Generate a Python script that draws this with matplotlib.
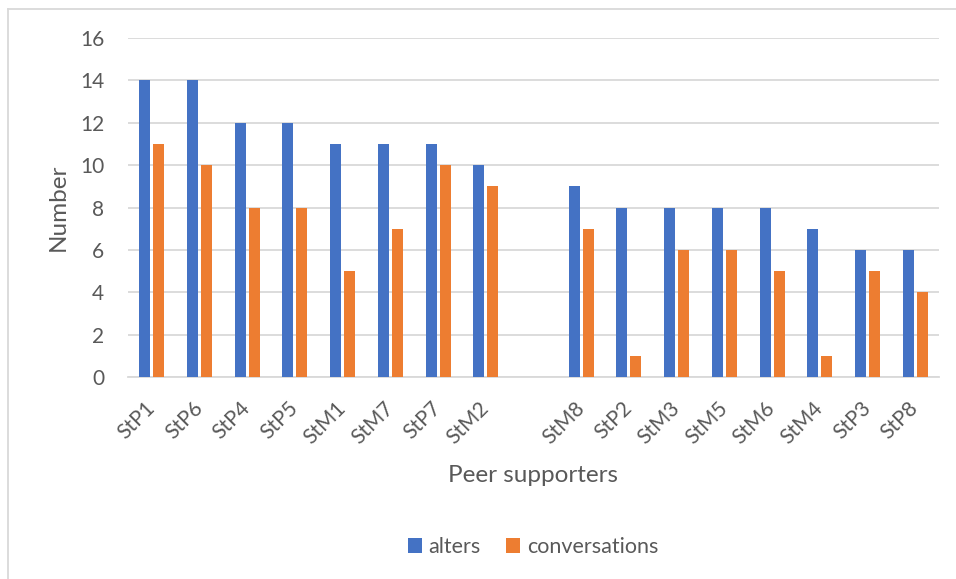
import numpy as np
import matplotlib
matplotlib.use("Agg")
import matplotlib.pyplot as plt
from matplotlib.lines import Line2D

# data (empty slot between StM2 and StM8)
supporters = ["StP1", "StP6", "StP4", "StP5", "StM1", "StM7", "StP7", "StM2", "",
              "StM8", "StP2", "StM3", "StM5", "StM6", "StM4", "StP3", "StP8"]
alters = [14, 14, 12, 12, 11, 11, 11, 10, np.nan, 9, 8, 8, 8, 8, 7, 6, 6]
conversations = [11, 10, 8, 8, 5, 7, 10, 9, np.nan, 7, 1, 6, 6, 5, 1, 5, 4]

BLUE = "#4472C4"
ORANGE = "#ED7D31"
TEXT = "#595959"
GRID = "#D9D9D9"

plt.rcParams["font.family"] = ["Lato", "DejaVu Sans"]

fig = plt.figure(figsize=(9.56, 5.79), dpi=100)
W, H = 956, 579
ax = fig.add_axes([128 / W, 1 - 377 / H, 811 / W, 339 / H])

x = np.arange(len(supporters))
w = 0.23
ax.bar(x - 0.147, alters, width=w, color=BLUE, label="alters", zorder=3)
ax.bar(x + 0.147, conversations, width=w, color=ORANGE, label="conversations", zorder=3)

ax.set_xlim(-0.5, len(supporters) - 0.5)
ax.set_ylim(0, 16)
ax.set_yticks(range(0, 17, 2))
ax.grid(axis="y", color=GRID, linewidth=1.3, zorder=0)
ax.set_axisbelow(True)
for s in ["top", "right", "left"]:
    ax.spines[s].set_visible(False)
ax.spines["bottom"].set_color(GRID)
ax.spines["bottom"].set_linewidth(1.3)
ax.tick_params(axis="both", length=0, colors=TEXT, labelsize=15)
ax.tick_params(axis="y", pad=17)
ax.set_xticks(x)
ax.set_xticklabels(supporters, rotation=45, ha="right", va="center",
                   rotation_mode="anchor")
ax.tick_params(axis="x", pad=20)

ax.set_ylabel("Number", fontsize=17.5, color=TEXT, labelpad=8)
fig.text(533 / W, 1 - 475 / H, "Peer supporters", fontsize=17.5, color=TEXT,
         ha="center", va="center")

leg = fig.legend(loc="center", bbox_to_anchor=(533 / W, 1 - 547 / H), ncol=2,
                 frameon=False, fontsize=15.5, handlelength=0.65, handleheight=0.65,
                 handletextpad=0.3, columnspacing=1.2)
for t in leg.get_texts():
    t.set_color(TEXT)

# outer chart frame (clipped on the right and bottom in the reference)
fig.add_artist(Line2D([8 / W, 1], [1 - 9 / H, 1 - 9 / H], color=GRID, linewidth=1.3))
fig.add_artist(Line2D([8 / W, 8 / W], [0, 1 - 9 / H], color=GRID, linewidth=1.3))

fig.savefig("out.png", dpi=100, facecolor="white")
